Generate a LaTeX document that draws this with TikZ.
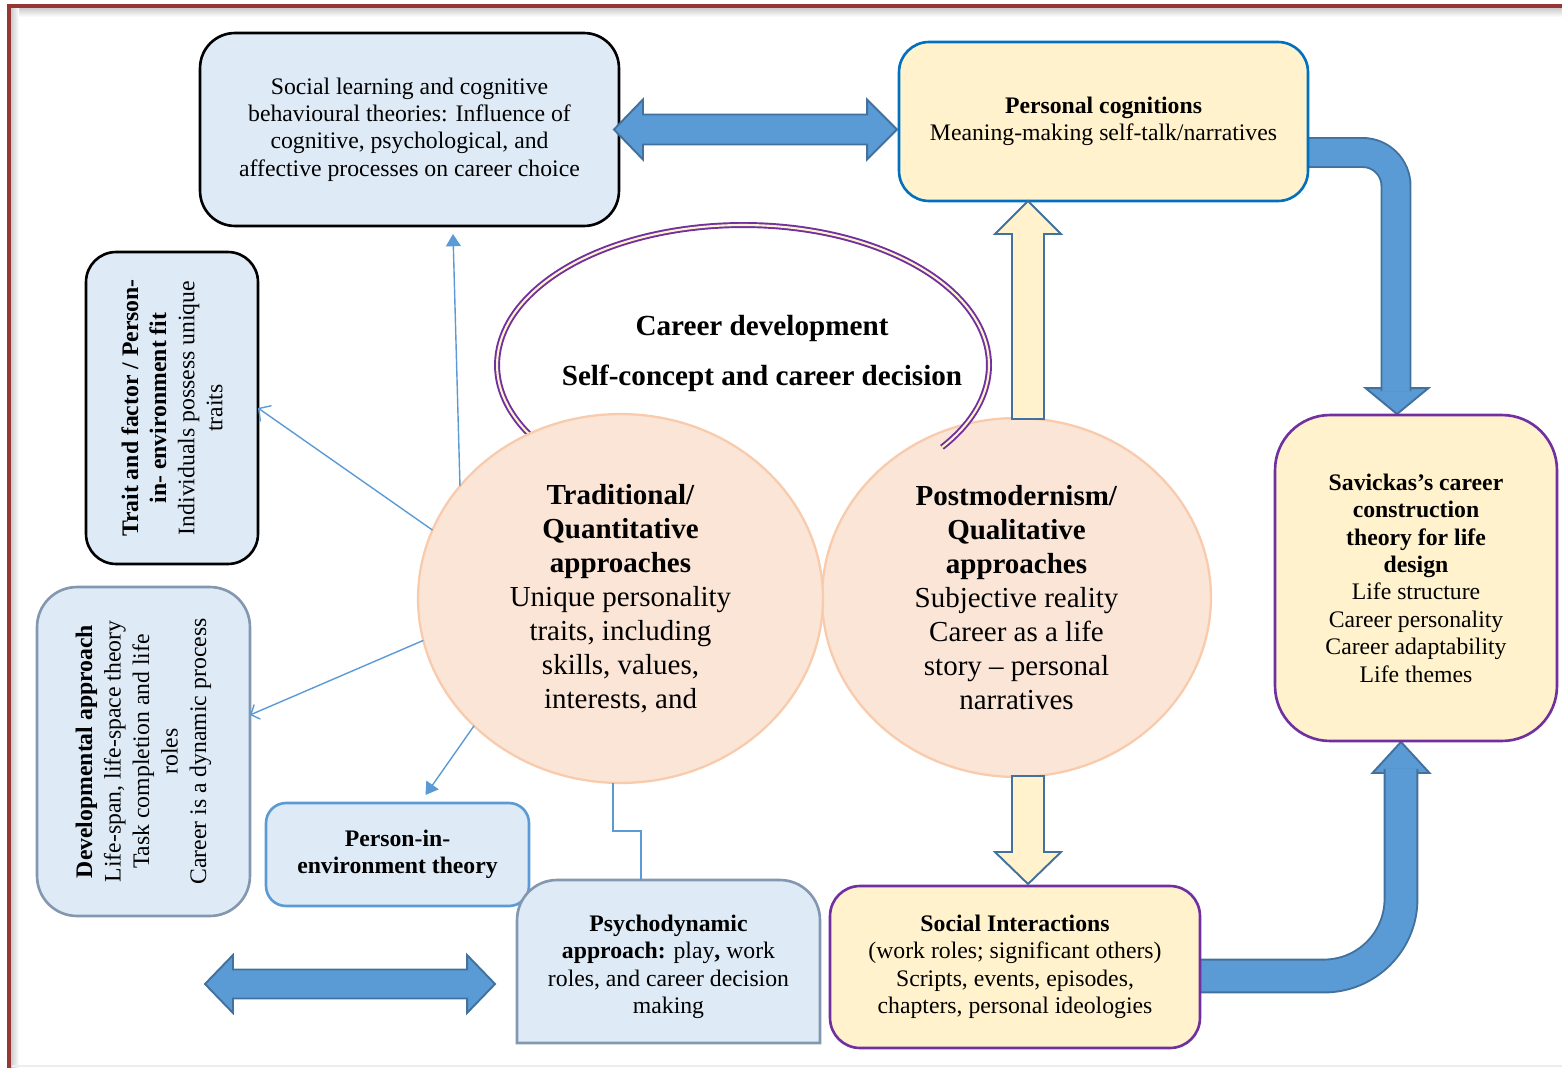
\documentclass[tikz,border=0pt]{standalone}
\usepackage{fontspec}
\setmainfont{Liberation Serif}
\usetikzlibrary{calc,arrows.meta,shapes.geometric}
\pgfdeclarelayer{bg}
\pgfsetlayers{bg,main}
\definecolor{lblue}{HTML}{DEEBF7}
\definecolor{lyellow}{HTML}{FFF2CC}
\definecolor{peach}{HTML}{FBE5D6}
\definecolor{peachline}{HTML}{F8CBAD}
\definecolor{abf}{HTML}{5B9BD5}
\definecolor{abl}{HTML}{41719C}
\definecolor{purp}{HTML}{7030A0}
\definecolor{pcblue}{HTML}{0070C0}
\definecolor{grayblue}{HTML}{8497B0}
\definecolor{framered}{HTML}{953735}
\begin{document}
\begin{tikzpicture}[x=0.02cm,y=-0.02cm,
  box/.style={draw, line width=1.5pt, inner sep=0pt, outer sep=0pt, align=center, font=\fontsize{13.5}{15.6}\selectfont},
  lb/.style={box, fill=lblue},
  yb/.style={box, fill=lyellow},
  circ/.style={ellipse, draw=peachline, fill=peach, line width=1.3pt, inner sep=0pt, outer sep=0pt, align=center, font=\fontsize{16.5}{19.3}\selectfont},
  conn/.style={draw=abf, line width=0.8pt},
  blockarrow/.style={draw=abl, fill=abf, line width=1.1pt},
  yarrow/.style={draw=abl, fill=lyellow, line width=1.1pt},
  bent/.style={draw=abl, line width=1.1pt, double=abf},
  rottext/.style={font=\fontsize{13.5}{16}\selectfont}
]
\useasboundingbox (0,0) rectangle (1562,1068);

% frame
\begin{pgfonlayer}{bg}
\shade[top color=black!22, bottom color=white] (10,7) rectangle (1562,17);
\shade[left color=black!22, right color=white] (10,7) rectangle (19,1068);
\draw[black!7, line width=0.8pt] (12,1066) -- (1562,1066);
\draw[framered, line width=1.8pt] (9,1068) -- (9,6) -- (1562,6);
\end{pgfonlayer}

% boxes
\node[lb, rounded corners=0.7cm, minimum width=8.38cm, minimum height=3.86cm] (sl) at (409.5,129.5)
  {Social learning and cognitive\\behavioural theories: Influence of\\cognitive, psychological, and\\affective processes on career choice};
\node[yb, draw=pcblue, rounded corners=0.6cm, minimum width=8.18cm, minimum height=3.18cm] (pc) at (1103.5,121.5)
  {\textbf{Personal cognitions}\\Meaning-making self-talk/narratives};
\node[lb, rounded corners=0.6cm, minimum width=3.44cm, minimum height=6.24cm] (trait) at (172,408)
  {\rotatebox{90}{\parbox{6.2cm}{\centering\fontsize{13.5}{16}\selectfont
   \textbf{Trait and factor / Person-}\\\textbf{in- environment fit}\\Individuals possess unique\\traits}}};
\node[lb, draw=grayblue, rounded corners=0.8cm, minimum width=4.26cm, minimum height=6.58cm] (dev) at (143.5,751.5)
  {\rotatebox{90}{\parbox{6.2cm}{\centering\fontsize{13.5}{16.2}\selectfont
   \textbf{Developmental approach}\\Life-span, life-space theory\\Task completion and life\\roles\\Career is a dynamic process}}};
\node[yb, draw=purp, rounded corners=0.6cm, minimum width=7.4cm, minimum height=3.24cm] (si) at (1015,967)
  {\textbf{Social Interactions}\\(work roles; significant others)\\Scripts, events, episodes,\\chapters, personal ideologies};
\node[yb, draw=purp, rounded corners=1.1cm, minimum width=5.64cm, minimum height=6.52cm] (sav) at (1416,578)
  {\textbf{Savickas’s career}\\\textbf{construction}\\\textbf{theory for life}\\\textbf{design}\\Life structure\\Career personality\\Career adaptability\\Life themes};

% bent arrows (behind boxes)
\begin{pgfonlayer}{bg}
\coordinate (h1) at ($(sav.north)+(-19,-1)$);
\draw[blockarrow] (h1) -- ++(-31.5,-26) -- ++(63,0) -- cycle;
\draw[bent, double distance=15.4pt, rounded corners=0.67cm] ($(pc.east)+(-4,31)$) -| ($(sav.north)+(-20,-24)$);
\coordinate (h2) at ($(sav.south)+(-15,1)$);
\draw[blockarrow] (h2) -- ++(-28.5,31) -- ++(57,0) -- cycle;
\draw[bent, double distance=17.6pt, rounded corners=1.54cm] ($(si.east)+(-4,9)$) -| ($(sav.south)+(-15,28)$);
\end{pgfonlayer}

% circles and career development arc
\node[circ, minimum width=7.78cm, minimum height=7.18cm] (pm) at (1016.5,597.5)
  {\textbf{Postmodernism/}\\\textbf{Qualitative}\\\textbf{approaches}\\Subjective reality\\Career as a life\\story – personal\\narratives};
\coordinate (cd) at (743,365);
\draw[draw=purp, line width=1.1pt, double=lyellow, double distance=1.2pt]
  ($(cd)+(-36:4.92cm and 2.8cm)$) arc[start angle=-36, end angle=215, x radius=4.92cm, y radius=2.8cm];
\node[align=center, font=\fontsize{16.6}{28.3}\selectfont\bfseries] (cdtext) at (762,353.5)
  {Career development\\Self-concept and career decision};
\node[circ, minimum width=8.1cm, minimum height=7.38cm] (tq) at (620.5,598.5)
  {\textbf{Traditional/}\\\textbf{Quantitative}\\\textbf{approaches}\\Unique personality\\traits, including\\skills, values,\\interests, and};

% yellow arrows
\coordinate (ya) at ($(pc.south)+(-75.5,0)$);
\draw[yarrow] (ya) -- ($(ya)+(33,33)$) -- ($(ya)+(16,33)$) -- ($(ya)+(16,218)$) -- ($(ya)+(-16,218)$) -- ($(ya)+(-16,33)$) -- ($(ya)+(-33,33)$) -- cycle;
\coordinate (yb) at ($(si.north)+(13,-2)$);
\draw[yarrow] (yb) -- ($(yb)+(33,-32)$) -- ($(yb)+(16,-32)$) -- ($(yb)+(16,-108)$) -- ($(yb)+(-16,-108)$) -- ($(yb)+(-16,-32)$) -- ($(yb)+(-33,-32)$) -- cycle;

% lower-left boxes
\node[lb, draw=abf, rounded corners=0.4cm, minimum width=5.26cm, minimum height=2.06cm] (pie) at (397.5,854.5)
  {\textbf{Person-in-}\\\textbf{environment theory}};
\node[inner sep=0pt, outer sep=0pt, minimum width=6.06cm, minimum height=3.26cm] (psy) at (668.5,961.5) {};
\draw[fill=lblue, draw=grayblue, line width=1.5pt]
  (psy.south west) -- ([yshift=-0.8cm]psy.north west) arc[start angle=180, end angle=90, radius=0.8cm]
  -- ([xshift=-0.8cm]psy.north east) arc[start angle=90, end angle=0, radius=0.8cm]
  -- (psy.south east) -- cycle;
\node[align=center, font=\fontsize{13.5}{15.6}\selectfont] (psytext) at (668.5,967)
  {\textbf{Psychodynamic}\\\textbf{approach:} play\textbf{,} work\\roles, and career decision\\making};

% double arrows
\coordinate (d1l) at ([xshift=-0.1cm]sl.east);
\coordinate (d1r) at ($(pc.west)+(-2,8)$);
\draw[blockarrow] (d1l) -- ($(d1l)+(29,-30)$) -- ($(d1l)+(29,-15)$) -- ($(d1r)+(-30,-15)$) -- ($(d1r)+(-30,-30)$) -- (d1r)
  -- ($(d1r)+(-30,30)$) -- ($(d1r)+(-30,15)$) -- ($(d1l)+(29,15)$) -- ($(d1l)+(29,30)$) -- cycle;
\coordinate (d2l) at (205,984);
\coordinate (d2r) at ($(psy.west)+(-22,22.5)$);
\draw[blockarrow] (d2l) -- ($(d2l)+(28,-29)$) -- ($(d2l)+(28,-14.5)$) -- ($(d2r)+(-28,-14.5)$) -- ($(d2r)+(-28,-29)$) -- (d2r)
  -- ($(d2r)+(-28,29)$) -- ($(d2r)+(-28,14.5)$) -- ($(d2l)+(28,14.5)$) -- ($(d2l)+(28,29)$) -- cycle;

% thin connectors
\draw[conn, -{Triangle[length=7pt,width=8.5pt]}] (tq.145) -- ($(sl.south)+(43.5,8)$);
\draw[conn, -{Straight Barb[length=5pt,width=11pt]}] (tq.160) -- (trait.east);
\draw[conn, -{Straight Barb[length=4pt,width=9pt]}] (tq.192) -- ($(dev.east)+(0,-36.5)$);
\draw[conn, -{Triangle[length=7pt,width=8.5pt]}] (tq.221) -- ($(pie.north)+(28,-8)$);
\draw[conn] ($(tq.south)+(-7.5,0)$) -- ++(0,48) -| ($(psy.north)+(-27.5,0)$);
\end{tikzpicture}
\end{document}
